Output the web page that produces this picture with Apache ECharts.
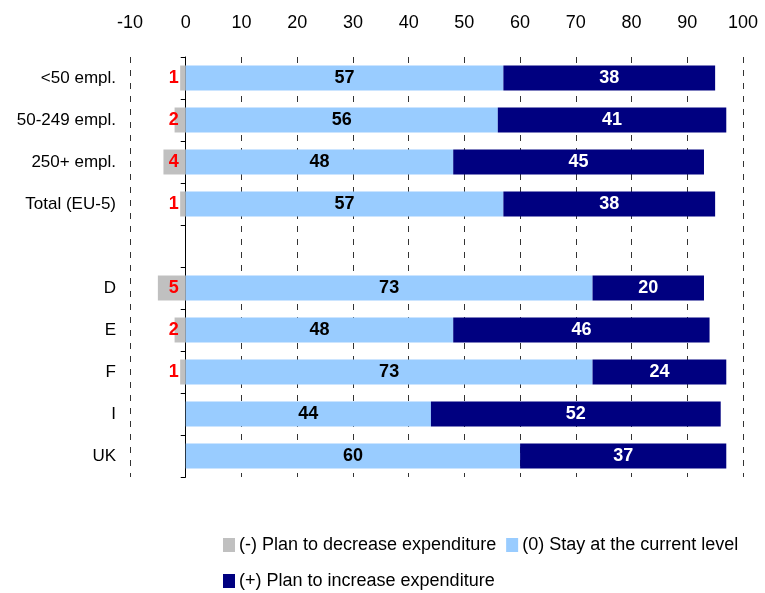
<!DOCTYPE html>
<html>
<head>
<meta charset="utf-8">
<title>Expenditure plans</title>
<script src="https://cdn.jsdelivr.net/npm/echarts@6/dist/echarts.min.js"></script>
<style>
  html, body { margin: 0; padding: 0; background: #ffffff; }
  #chart { width: 765px; height: 593px; }
</style>
</head>
<body>
<div id="chart"></div>
<script>
// Rows, top to bottom (the empty entry is a spacer row)
const categories = ['<50 empl.', '50-249 empl.', '250+ empl.', 'Total (EU-5)', '', 'D', 'E', 'F', 'I', 'UK'];

// Shares of respondents, in %
const decrease = [1, 2, 4, 1, null, 5, 2, 1, null, null];
const stay     = [57, 56, 48, 57, null, 73, 48, 73, 44, 60];
const increase = [38, 41, 45, 38, null, 20, 46, 24, 52, 37];

// Value axis ticks
const axisMin = -10;
const axisMax = 100;
const axisStep = 10;

const seriesNames = [
  '(-) Plan to decrease expenditure',
  '(0) Stay at the current level',
  '(+) Plan to increase expenditure'
];

const FONT = 'Liberation Sans, Arial, sans-serif';

const chart = echarts.init(document.getElementById('chart'), null, { renderer: 'canvas' });

chart.setOption({
  animation: false,
  backgroundColor: '#ffffff',
  textStyle: { fontFamily: FONT },
  grid: { left: 130, right: 22, top: 57, bottom: 116, containLabel: false, outerBoundsMode: 'none' },
  legend: [
    {
      data: [seriesNames[0], seriesNames[1]],
      left: 218, top: 531,
      orient: 'horizontal',
      itemWidth: 12, itemHeight: 14, itemGap: 10,
      icon: 'rect',
      textStyle: { fontFamily: FONT, fontSize: 18, color: '#000', padding: [0, 0, 0, -1] }
    },
    {
      data: [seriesNames[2]],
      left: 218, top: 567,
      orient: 'horizontal',
      itemWidth: 12, itemHeight: 14,
      icon: 'rect',
      textStyle: { fontFamily: FONT, fontSize: 18, color: '#000', padding: [0, 0, 0, -1] }
    }
  ],
  xAxis: {
    type: 'value',
    position: 'top',
    min: axisMin, max: axisMax, interval: axisStep,
    axisLine: { show: false },
    axisTick: { show: false },
    axisLabel: { fontFamily: FONT, fontSize: 18, color: '#000', margin: 25 },
    splitLine: { show: true, lineStyle: { color: '#333', width: 1, type: [6, 7] } }
  },
  yAxis: {
    type: 'category',
    data: categories,
    inverse: true,
    axisLine: { show: true, onZero: true, lineStyle: { color: '#000', width: 1 } },
    axisTick: { show: true, inside: false, length: 5, lineStyle: { color: '#000' } },
    axisLabel: { fontFamily: FONT, fontSize: 17, color: '#000', margin: 14 },
    splitLine: { show: false }
  },
  series: [
    {
      name: seriesNames[0],
      type: 'bar',
      stack: 'total',
      barWidth: 25,
      data: decrease.map(v => (v == null ? null : -v)),
      itemStyle: { color: '#c0c0c0' },
      label: {
        show: true,
        position: 'insideRight',
        distance: 7,
        fontFamily: FONT, fontSize: 18, fontWeight: 'bold', color: '#ff0000',
        formatter: p => (p.value == null ? '' : String(Math.abs(p.value)))
      }
    },
    {
      name: seriesNames[1],
      type: 'bar',
      stack: 'total',
      barWidth: 25,
      data: stay,
      itemStyle: { color: '#99ccff' },
      label: {
        show: true, position: 'inside',
        fontFamily: FONT, fontSize: 18, fontWeight: 'bold', color: '#000'
      }
    },
    {
      name: seriesNames[2],
      type: 'bar',
      stack: 'total',
      barWidth: 25,
      data: increase,
      itemStyle: { color: '#000080' },
      label: {
        show: true, position: 'inside',
        fontFamily: FONT, fontSize: 18, fontWeight: 'bold', color: '#ffffff'
      }
    }
  ]
});
</script>
</body>
</html>
